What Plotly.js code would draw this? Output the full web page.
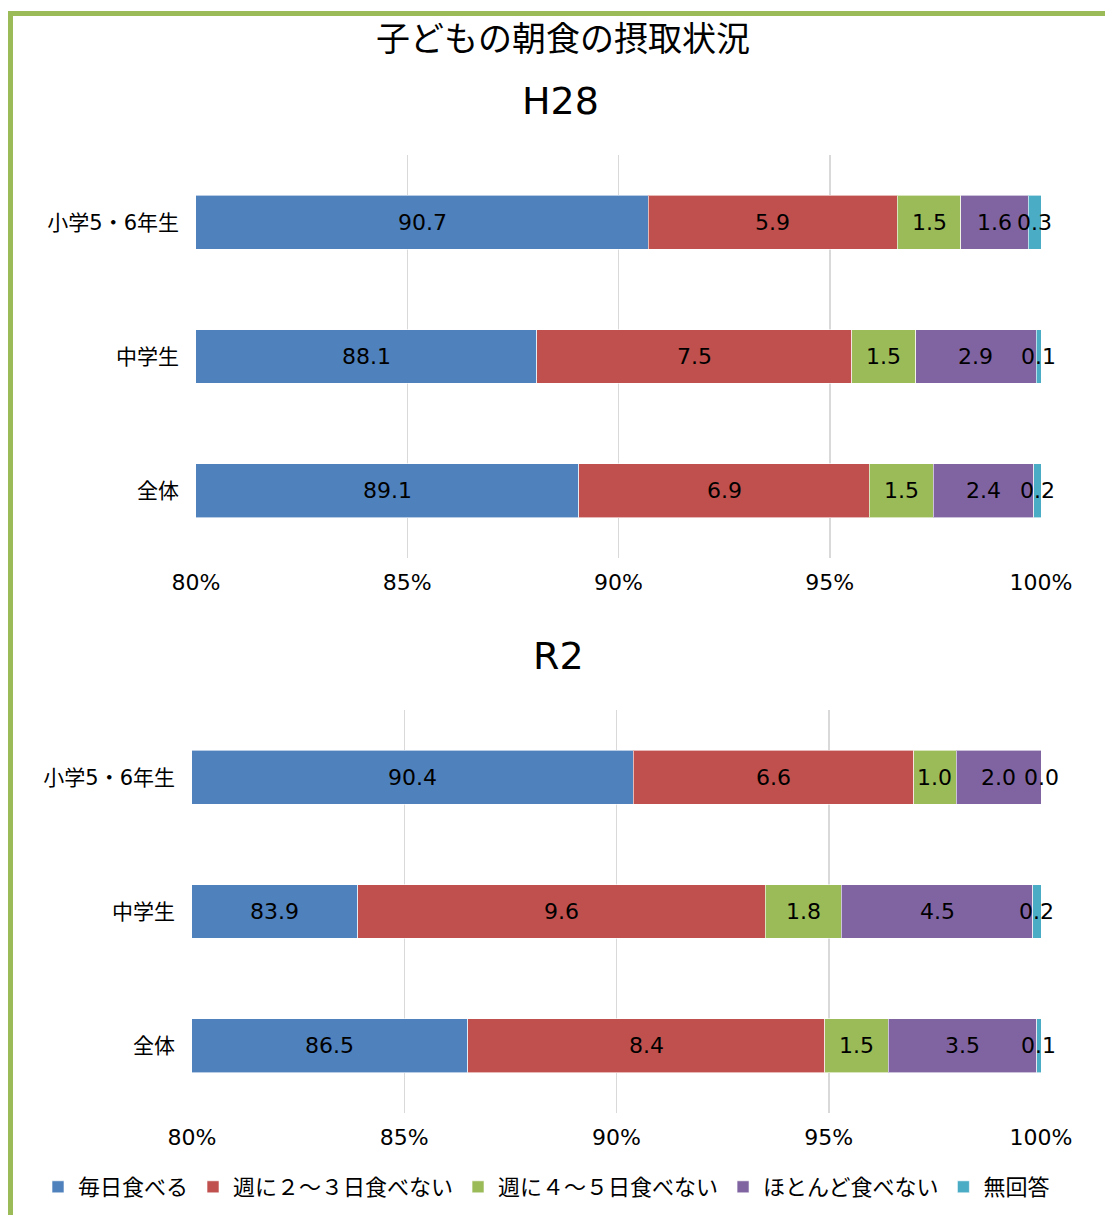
<!DOCTYPE html>
<html>
<head>
<meta charset="utf-8">
<script src="https://cdn.plot.ly/plotly-3.0.1.min.js"></script>
<style>
  html, body { margin: 0; padding: 0; background: #ffffff; }
  #frame { position: absolute; left: 8px; top: 11px; width: 1097px; height: 1204px;
           border-left: 5px solid #9BBB59; border-top: 5px solid #9BBB59; box-sizing: border-box; }
  #chart { position: absolute; left: 0; top: 0; width: 1105px; height: 1215px; }
</style>
</head>
<body>
<div id="frame"></div>
<div id="chart"></div>
<script>
// ---- data ----
const categories = ['小学5・6年生', '中学生', '全体'];
const seriesNames = ['毎日食べる', '週に２～３日食べない', '週に４～５日食べない', 'ほとんど食べない', '無回答'];
const seriesColors = ['#4F81BD', '#C0504D', '#9BBB59', '#8064A2', '#4BACC6'];
const mainTitle = '子どもの朝食の摂取状況';
const panelTitles = ['H28', 'R2'];
const tickVals = [80, 85, 90, 95, 100];
const tickLabels = ['80%', '85%', '90%', '95%', '100%'];

// H28 (labels shown to one decimal)
const h28Daily   = [90.7, 88.06, 89.06];
const h28Week23  = [5.9, 7.46, 6.88];
const h28Week45  = [1.5, 1.51, 1.51];
const h28Rarely  = [1.6, 2.86, 2.38];
const h28NoAns   = [0.3, 0.11, 0.17];
// R2
const r2Daily    = [90.4, 83.9, 86.5];
const r2Week23   = [6.6, 9.6, 8.4];
const r2Week45   = [1.0, 1.8, 1.5];
const r2Rarely   = [2.0, 4.5, 3.5];
const r2NoAns    = [0.0, 0.2, 0.1];

const panels = [
  {series: [h28Daily, h28Week23, h28Week45, h28Rarely, h28NoAns], xa: 'x', ya: 'y', xr: 'x', yr: 'y'},
  {series: [r2Daily, r2Week23, r2Week45, r2Rarely, r2NoAns], xa: 'x2', ya: 'y2', xr: 'x2', yr: 'y2'}
];

const FONT = '"DejaVu Sans", "Noto Sans CJK JP", sans-serif';
const CJK = '"Noto Sans CJK JP", sans-serif';
const RANGE_MIN = 80;

const traces = [];
const annotations = [];

panels.forEach((p, pi) => {
  p.series.forEach((vals, si) => {
    traces.push({
      type: 'bar', orientation: 'h',
      x: vals, y: categories,
      name: seriesNames[si],
      xaxis: p.xa, yaxis: p.ya,
      marker: {color: seriesColors[si], line: {color: 'rgba(255,255,255,0.6)', width: 1}},
      showlegend: pi === 0,
      legendgroup: seriesNames[si],
      hoverinfo: 'skip'
    });
  });
  // data labels centred on visible part of each segment
  categories.forEach((cat, ci) => {
    let cum = 0;
    p.series.forEach((vals, si) => {
      const v = vals[ci];
      const start = Math.max(cum, RANGE_MIN);
      const end = cum + v;
      const mid = (start + end) / 2;
      annotations.push({
        x: mid, y: cat, xref: p.xr, yref: p.yr,
        text: v.toFixed(1), showarrow: false,
        font: {family: FONT, size: 22, color: '#000000'}
      });
      cum = end;
    });
  });
});

// titles
annotations.push({text: mainTitle, xref: 'paper', yref: 'paper', x: 563/1105, y: 1 - 36/1215,
  showarrow: false, xanchor: 'center', yanchor: 'middle', font: {family: CJK, size: 34, color: '#000'}});
annotations.push({text: panelTitles[0], xref: 'paper', yref: 'paper', x: 560/1105, y: 1 - 101/1215,
  showarrow: false, xanchor: 'center', yanchor: 'middle', font: {family: FONT, size: 38, color: '#000'}});
annotations.push({text: panelTitles[1], xref: 'paper', yref: 'paper', x: 558/1105, y: 1 - 656/1215,
  showarrow: false, xanchor: 'center', yanchor: 'middle', font: {family: FONT, size: 38, color: '#000'}});

const xCommon = {
  range: [80, 100], tickvals: tickVals, ticktext: tickLabels,
  showgrid: true, gridcolor: '#D9D9D9', gridwidth: 1.5,
  zeroline: false, showline: false, ticks: '', fixedrange: true,
  tickfont: {family: FONT, size: 22, color: '#000'}, ticklabelstandoff: 9
};
const yCommon = {
  type: 'category', categoryorder: 'array', categoryarray: categories, autorange: 'reversed',
  showgrid: false, zeroline: false, showline: false, ticks: '', fixedrange: true,
  tickfont: {family: FONT, size: 21, color: '#000'}, ticklabelstandoff: 16
};

const layout = {
  width: 1105, height: 1215,
  margin: {l: 0, r: 0, t: 0, b: 0},
  paper_bgcolor: 'rgba(0,0,0,0)', plot_bgcolor: 'rgba(0,0,0,0)',
  barmode: 'stack', bargap: 0.6,
  font: {family: FONT, color: '#000'},
  xaxis: Object.assign({}, xCommon, {domain: [196/1105, 1041/1105], anchor: 'y'}),
  yaxis: Object.assign({}, yCommon, {domain: [1 - 558/1215, 1 - 155/1215], anchor: 'x'}),
  xaxis2: Object.assign({}, xCommon, {domain: [192/1105, 1041/1105], anchor: 'y2'}),
  yaxis2: Object.assign({}, yCommon, {domain: [1 - 1113/1215, 1 - 710/1215], anchor: 'x2'}),
  legend: {orientation: 'h', x: 38/1105, y: 1 - 1187/1215, xanchor: 'left', yanchor: 'middle',
    font: {family: CJK, size: 22, color: '#000'}, traceorder: 'normal', itemwidth: 30,
    bgcolor: 'rgba(0,0,0,0)'},
  annotations: annotations,
  showlegend: true
};

Plotly.newPlot('chart', traces, layout, {displayModeBar: false, staticPlot: true});
</script>
</body>
</html>
